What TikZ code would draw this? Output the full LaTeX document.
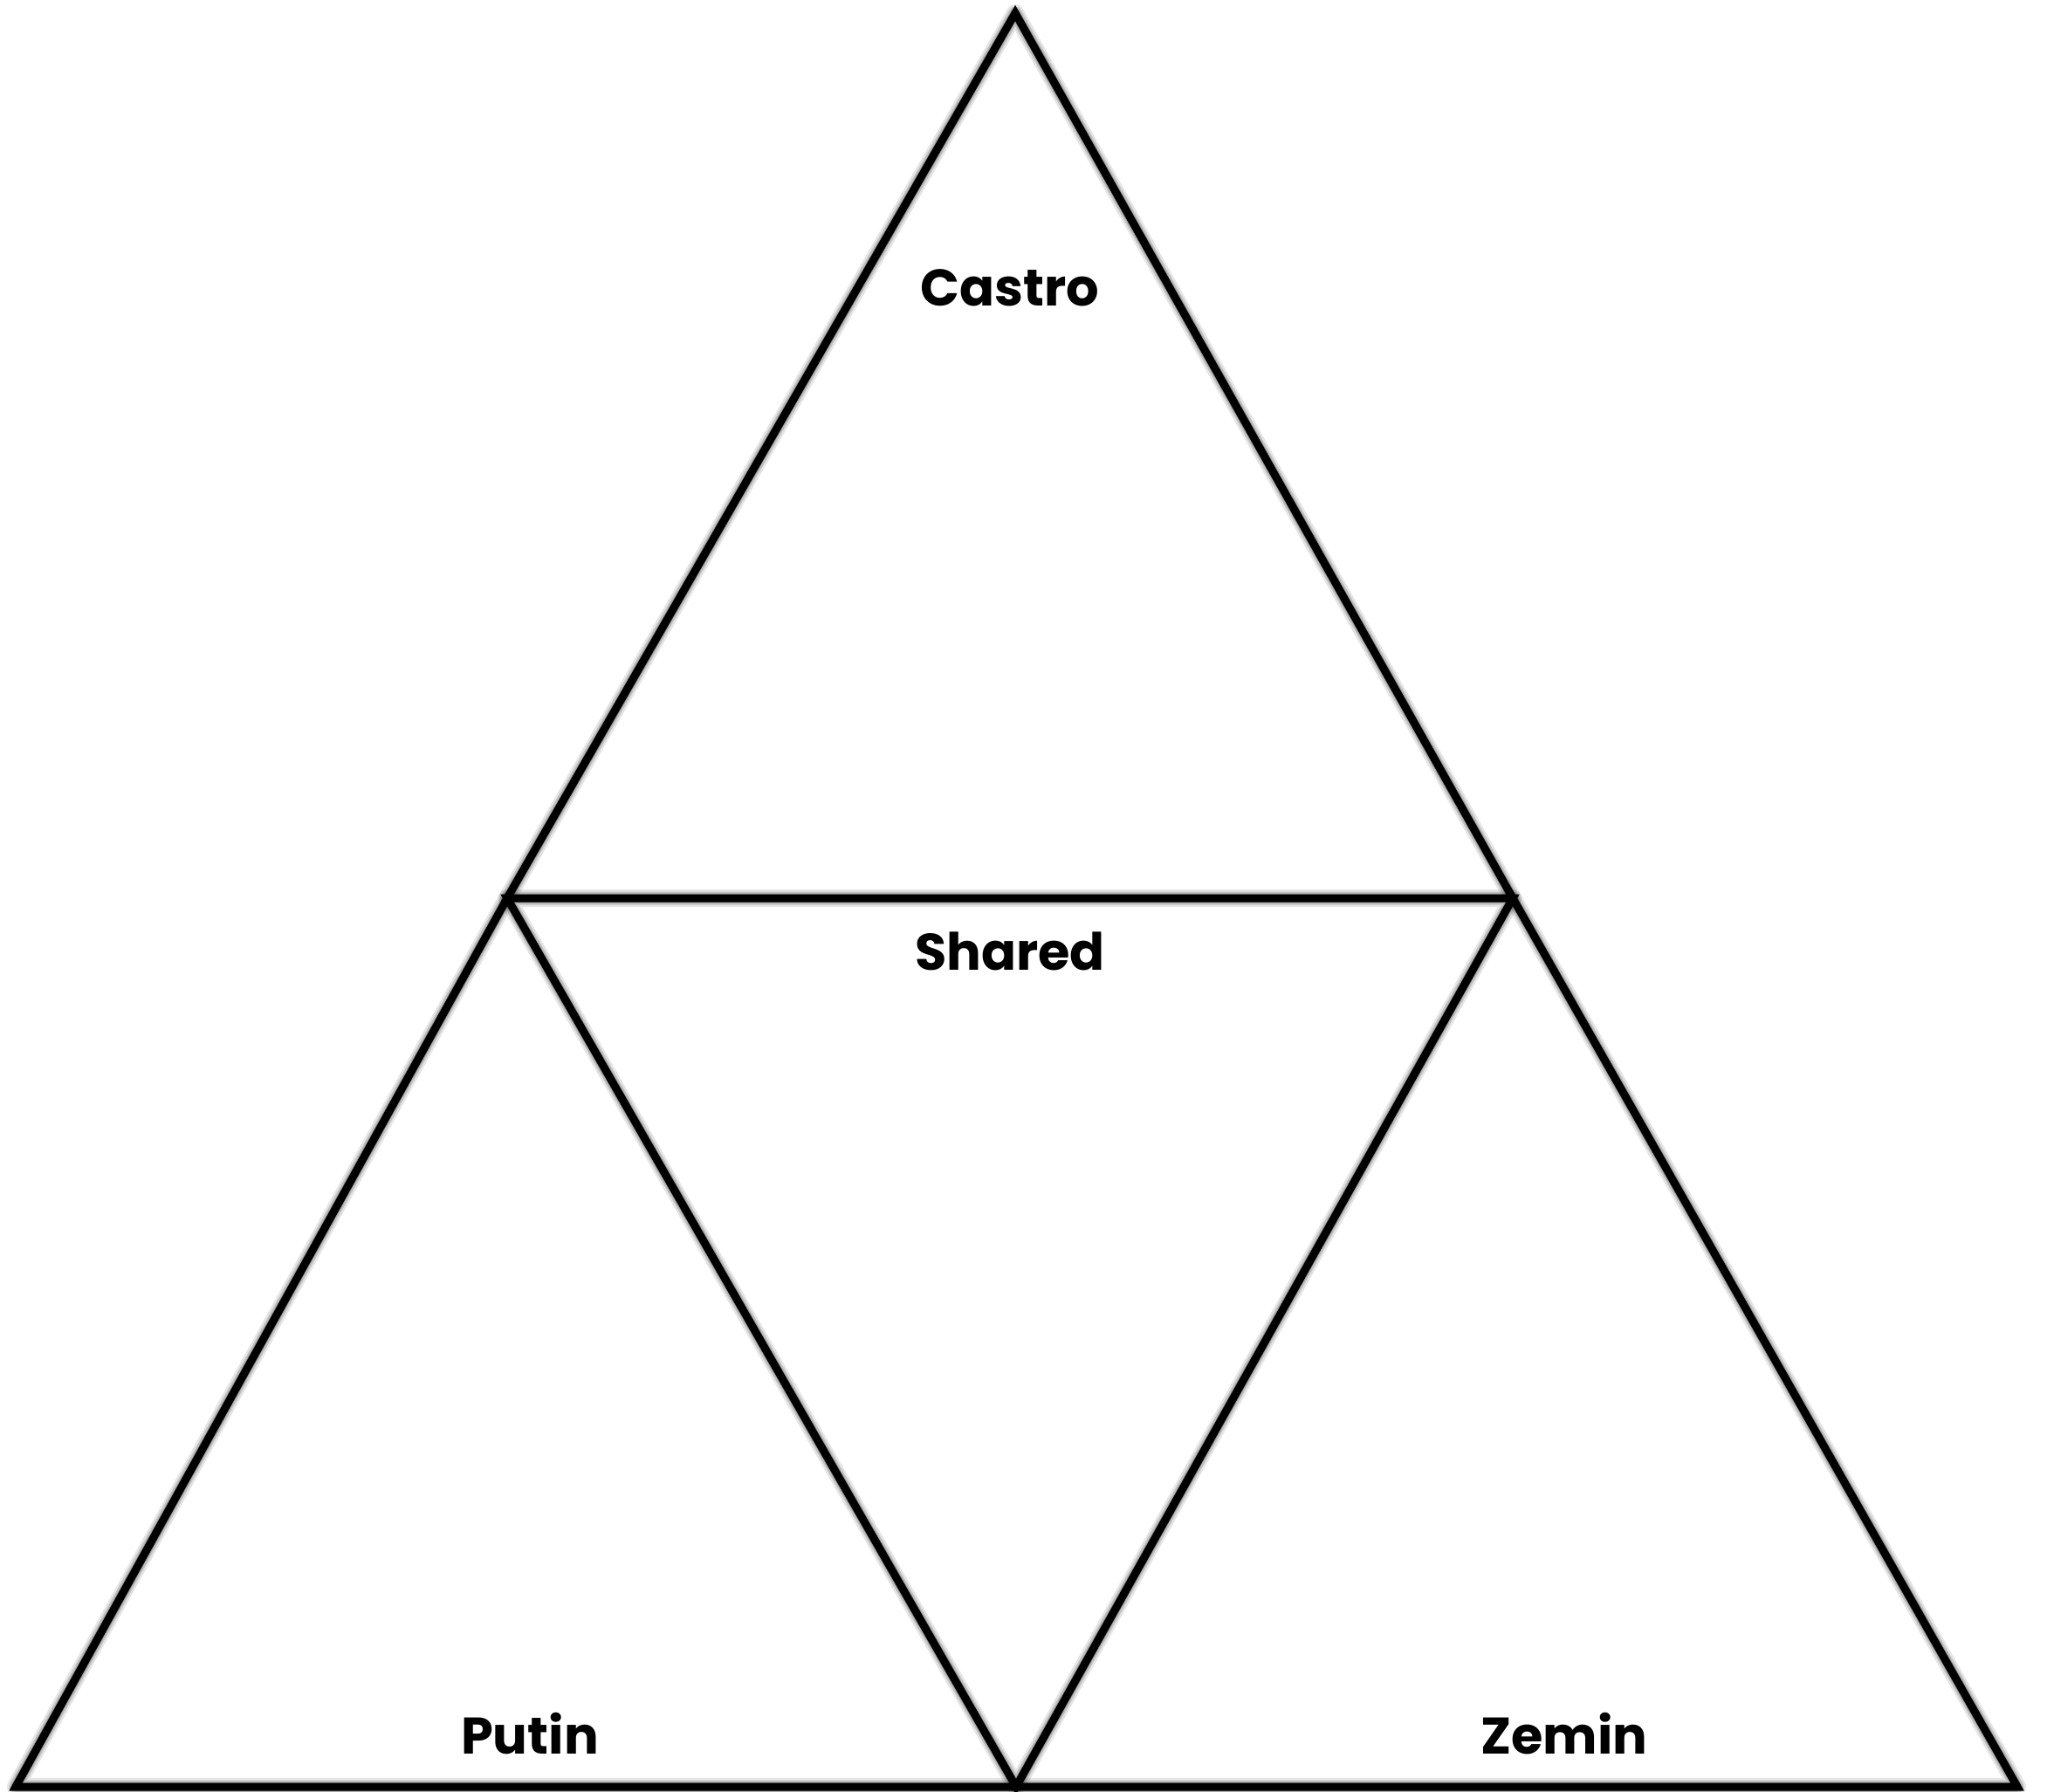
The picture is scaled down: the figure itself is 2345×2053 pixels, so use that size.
\documentclass[tikz,border=0pt]{standalone}
\usepackage{fontspec}
\setmainfont{Poppins}[UprightFont=* Bold]
\begin{document}
\begin{tikzpicture}[x=1pt,y=-1pt,
  edge/.style={line width=9pt,line join=miter,line cap=butt,black},
  shad/.style={line join=round,line cap=round,black},
  lbl/.style={font=\fontsize{59}{62}\selectfont,inner sep=0pt,anchor=center}]
\useasboundingbox[fill=white] (0,0) rectangle (2345,2053);
\coordinate (A) at (1163,15);
\coordinate (ML) at (581,1029);
\coordinate (MR) at (1733,1029);
\coordinate (BL) at (18,2047);
\coordinate (BM) at (1164,2047);
\coordinate (BR) at (2311,2047);
% soft drop shadow
\foreach \w/\o in {20/0.1,15/0.15,11/0.2,7/0.25} {
  \begin{scope}[shift={(10,9)}]
    \draw[shad,line width=\w pt,opacity=\o] (A) -- (ML) -- (BL) -- (BR) -- (MR) -- cycle;
    \draw[shad,line width=\w pt,opacity=\o] (ML) -- (MR) -- (BM) -- cycle;
  \end{scope}
}
% edges
\draw[edge] (A) -- (ML) -- (BL) -- (BR) -- (MR) -- cycle;
\draw[edge] (ML) -- (MR) -- (BM) -- cycle;
% labels
\node[lbl] (castro) at (1157,330) {Castro};
\node[lbl] (shared) at (1157,1090) {Shared};
\node[lbl] (putin) at (607,1986) {Putin};
\node[lbl] (zemin) at (1792,1986) {Zemin};
\end{tikzpicture}
\end{document}
